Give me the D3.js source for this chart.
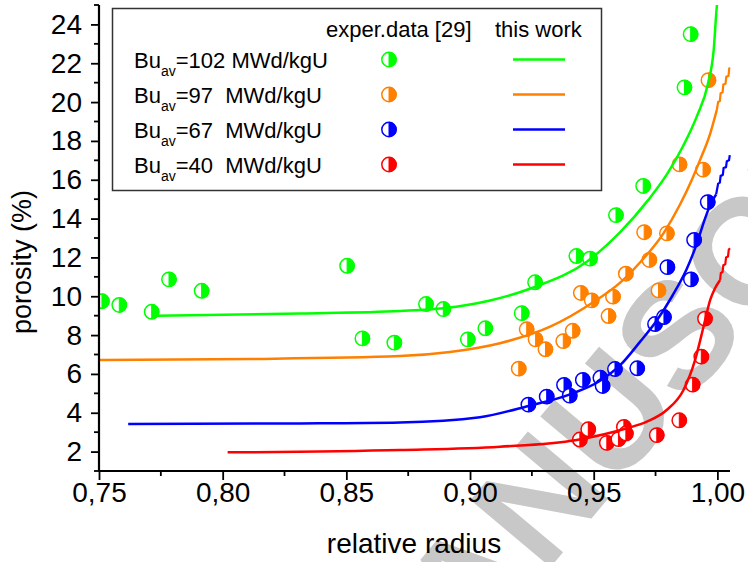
<!DOCTYPE html>
<html><head><meta charset="utf-8">
<script src="https://cdn.jsdelivr.net/npm/d3@7"></script>
<style>
body{margin:0;background:#fff}
svg{display:block;font-family:"Liberation Sans",Arial,Helvetica,sans-serif}
</style>
</head><body>
<svg id="chart" width="748" height="562"></svg>
<script>
// ---------- data ----------
const burnups = ["102", "97", "67", "40"];
const legendTexts = ["=102 MWd/kgU", "=97  MWd/kgU", "=67  MWd/kgU", "=40  MWd/kgU"];
const colors = ["#00ff00", "#ff8000", "#0000ff", "#ff0000"];
const xTickValues = [0.75, 0.80, 0.85, 0.90, 0.95, 1.00];
const yTickValues = [2, 4, 6, 8, 10, 12, 14, 16, 18, 20, 22, 24];

// experimental data [29]
const exp102 = [[0.7512,9.75],[0.7582,9.55],[0.7713,9.20],[0.7783,10.87],[0.7915,10.28],[0.8503,11.57],
  [0.8565,7.83],[0.8694,7.61],[0.8822,9.60],[0.8892,9.34],[0.8991,7.78],[0.9062,8.35],[0.9209,9.13],
  [0.9263,10.72],[0.9430,12.07],[0.9485,11.94],[0.9590,14.18],[0.9700,15.68],[0.9867,20.76],[0.9892,23.50]];
const exp97 = [[0.9197,6.27],[0.9229,8.30],[0.9265,7.78],[0.9305,7.27],[0.9377,7.69],[0.9415,8.22],
  [0.9448,10.17],[0.9492,9.79],[0.9560,8.98],[0.9578,9.98],[0.9630,11.16],[0.9704,13.30],[0.9725,11.87],
  [0.9762,10.30],[0.9796,13.24],[0.9847,16.79],[0.9942,16.52],[0.9964,21.13]];
const exp67 = [[0.9236,4.42],[0.9310,4.83],[0.9380,5.43],[0.9403,4.88],[0.9456,5.69],[0.9527,5.80],
  [0.9536,5.38],[0.9586,6.25],[0.9676,6.29],[0.9748,8.57],[0.9784,8.93],[0.9798,11.50],[0.9893,10.87],
  [0.9906,12.90],[0.9961,14.85]];
const exp40 = [[0.9444,2.62],[0.9478,3.15],[0.9553,2.45],[0.9600,2.64],[0.9622,3.27],[0.9630,2.93],
  [0.9755,2.85],[0.9846,3.61],[0.9900,5.45],[0.9935,6.89],[0.9950,8.85]];

// model curves (this work): smooth part, then the jagged tail near r = 1
const model102 = [[0.7733,9.00],[0.8313,9.11],[0.8717,9.24],[0.8891,9.38],[0.9081,9.78],[0.9256,10.45],
  [0.9472,11.78],[0.9607,13.30],[0.9720,14.95],[0.9797,16.30],[0.9862,17.75],[0.9918,19.30],
  [0.9962,20.96],[0.9985,22.68],[0.99976,24.91],[1.0004,25.6]];
const model97 = [[0.7500,6.72],[0.8111,6.77],[0.8717,6.92],[0.8919,7.13],[0.9121,7.58],[0.9324,8.43],
  [0.9499,9.70],[0.9607,10.70],[0.9688,11.75],[0.9782,13.24],[0.9850,14.75],[0.9895,15.95],
  [0.9931,17.05],[0.9971,18.38],[0.99976,19.59]];
const tail97 = [[0.99976,19.59],[1.0003,20.00],[1.0010,20.05],[1.0013,20.45],[1.0021,20.50],[1.0024,20.90],
  [1.0033,20.95],[1.0036,21.30],[1.0045,21.35],[1.0048,21.74],[1.0052,21.74]];
const model67 = [[0.7618,3.42],[0.8313,3.45],[0.8717,3.50],[0.9040,3.77],[0.9236,4.35],[0.9404,4.95],
  [0.9526,5.65],[0.9607,6.45],[0.9687,7.65],[0.9755,8.75],[0.9817,10.00],[0.9876,11.40],
  [0.9918,12.75],[0.9950,14.00],[0.9975,14.80],[0.9995,15.25]];
const tail67 = [[0.9995,15.25],[1.0003,15.80],[1.0010,15.85],[1.0013,16.20],[1.0022,16.25],[1.0025,16.60],
  [1.0035,16.65],[1.0038,16.95],[1.0047,17.00],[1.0050,17.27]];
const model40 = [[0.8020,1.96],[0.8717,2.08],[0.9121,2.25],[0.9431,2.60],[0.9634,3.20],[0.9715,3.54],
  [0.9795,4.14],[0.9863,5.17],[0.9910,6.72],[0.9944,8.43],[0.9971,9.81],[0.9990,10.40],[1.0011,10.84]];
const tail40 = [[1.0011,10.84],[1.0014,11.20],[1.0021,11.25],[1.0024,11.60],[1.0032,11.65],[1.0035,12.00],
  [1.0043,12.05],[1.0046,12.40],[1.0051,12.47]];

const expSets = [exp102, exp97, exp67, exp40];
const modelSets = [model102, model97, model67, model40];
const tailSets = [[], tail97, tail67, tail40];

// ---------- layout ----------
const svg = d3.select("#chart");
const x = d3.scaleLinear().domain([0.75, 1.0051]).range([99, 730]);
const y = d3.scaleLinear().domain([1, 25]).range([471, 5]);

// watermark (behind)
svg.append("text")
  .attr("transform", "translate(392,756) rotate(-50)")
  .attr("font-size", 152).attr("font-weight", "bold")
  .attr("fill", "#c8c8c8")
  .text("MANUSCRIPT");

svg.append("defs").append("clipPath").attr("id", "plotClip")
  .append("rect").attr("x", 99).attr("y", 5).attr("width", 633).attr("height", 466);

const plot = svg.append("g").attr("clip-path", "url(#plotClip)");

// markers: half-filled circles (right half filled)
const R = 7.2;
const halfPath = `M0,${-R}A${R},${R} 0 0 1 0,${R}Z`;
function drawMarker(sel, color) {
  sel.append("circle").attr("r", R).attr("fill", "#fff").attr("stroke", color).attr("stroke-width", 1.5);
  sel.append("path").attr("d", halfPath).attr("fill", color).attr("stroke", color).attr("stroke-width", 1);
}

expSets.forEach((pts, i) => {
  plot.append("g").selectAll("g").data(pts).join("g")
    .attr("transform", d => `translate(${x(d[0])},${y(d[1])})`)
    .each(function () { drawMarker(d3.select(this), colors[i]); });
});

const smoothLine = d3.line().x(d => x(d[0])).y(d => y(d[1])).curve(d3.curveMonotoneX);
const jaggedLine = d3.line().x(d => x(d[0])).y(d => y(d[1]));
modelSets.forEach((pts, i) => {
  plot.append("path").datum(pts).attr("d", smoothLine)
    .attr("fill", "none").attr("stroke", colors[i]).attr("stroke-width", 2.5)
    .attr("stroke-linejoin", "round");
  if (tailSets[i].length) {
    plot.append("path").datum(tailSets[i]).attr("d", jaggedLine)
      .attr("fill", "none").attr("stroke", colors[i]).attr("stroke-width", 2.2)
      .attr("stroke-linejoin", "round");
  }
});

// ---------- axes ----------
const fmtX = d => d3.format(".2f")(d).replace(".", ",");
const xAxis = d3.axisBottom(x).tickValues(xTickValues).tickFormat(fmtX).tickSize(9).tickPadding(2);
const gx = svg.append("g").attr("transform", "translate(0,471)").call(xAxis);
const xMinor = d3.range(0.775, 1.001, 0.05);
gx.selectAll(".minor").data(xMinor).join("line").attr("class", "minor")
  .attr("x1", d => x(d)).attr("x2", d => x(d)).attr("y1", 0).attr("y2", 5)
  .attr("stroke", "#000").attr("stroke-width", 1.8);

const yAxis = d3.axisLeft(y).tickValues(yTickValues).tickSize(8).tickPadding(9);
const gy = svg.append("g").attr("transform", "translate(99,0)").call(yAxis);
const yMinor = d3.range(1, 25.5, 2);
gy.selectAll(".minor").data(yMinor).join("line").attr("class", "minor")
  .attr("x1", 0).attr("x2", -5).attr("y1", d => y(d)).attr("y2", d => y(d))
  .attr("stroke", "#000").attr("stroke-width", 1.8);

[gx, gy].forEach(g => {
  g.select(".domain").attr("stroke", "#000").attr("stroke-width", 2.2);
  g.selectAll(".tick line").attr("stroke", "#000").attr("stroke-width", 1.8);
  g.selectAll(".tick text").attr("font-size", 28).attr("fill", "#000")
    .attr("font-family", '"Liberation Sans",Arial,sans-serif');
});
gx.select(".domain").attr("d", "M99,0H730");
gy.select(".domain").attr("d", "M0,5V471");

// axis titles
svg.append("text").attr("x", 414).attr("y", 553).attr("text-anchor", "middle")
  .attr("font-size", 28).text("relative radius");
svg.append("text").attr("transform", "translate(31,262) rotate(-90)").attr("text-anchor", "middle")
  .attr("font-size", 27).text("porosity (%)");

// ---------- legend ----------
const lg = svg.append("g");
lg.append("rect").attr("x", 112.5).attr("y", 8.5).attr("width", 489).attr("height", 182)
  .attr("fill", "#fff").attr("stroke", "#333").attr("stroke-width", 1.5);
lg.append("text").attr("x", 326).attr("y", 37).attr("font-size", 22).text("exper.data [29]");
lg.append("text").attr("x", 495).attr("y", 37).attr("font-size", 22).text("this work");

burnups.forEach((b, i) => {
  const base = 67.5 + i * 35;
  const t = lg.append("text").attr("x", 134).attr("y", base).attr("font-size", 22)
    .style("white-space", "pre").attr("xml:space", "preserve");
  t.append("tspan").text("Bu");
  t.append("tspan").attr("font-size", 14).attr("dy", 8.5).text("av");
  t.append("tspan").attr("dy", -8.5).text(legendTexts[i]);
  const cy = base - 8;
  const m = lg.append("g").attr("transform", `translate(389,${cy})`);
  drawMarker(m, colors[i]);
  lg.append("line").attr("x1", 513).attr("x2", 565).attr("y1", cy).attr("y2", cy)
    .attr("stroke", colors[i]).attr("stroke-width", 2.5);
});
</script>
</body></html>
